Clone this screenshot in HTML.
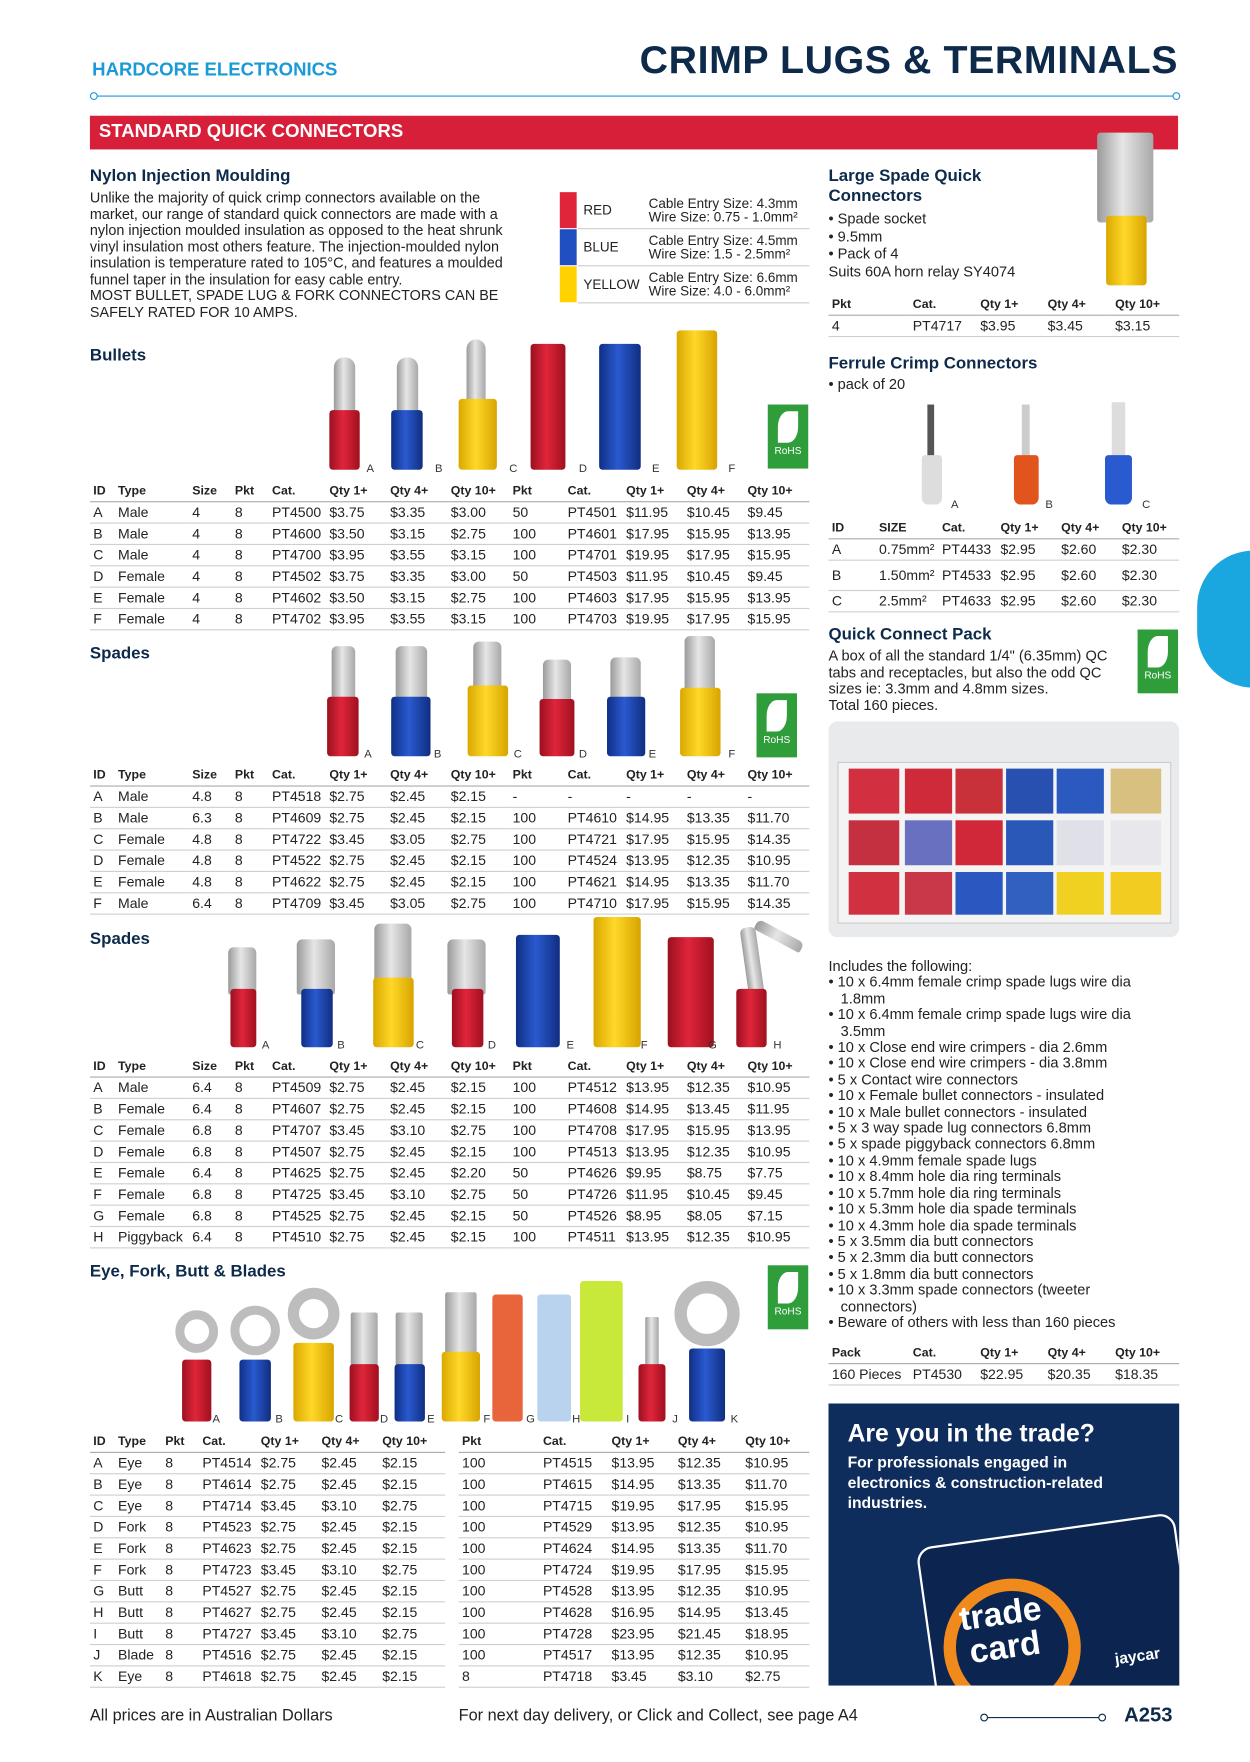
<!DOCTYPE html>
<html><head><meta charset="utf-8">
<style>
html,body{margin:0;padding:0;background:#fff;}
body{width:1250px;height:1762px;overflow:hidden;position:relative;}
#p{position:absolute;left:0;top:0;width:1112px;height:1568px;transform:scale(1.1241,1.1237);transform-origin:0 0;font-family:"Liberation Sans",sans-serif;color:#222;}
.a{position:absolute;}
table.t{position:absolute;border-collapse:collapse;table-layout:fixed;font-family:"Liberation Sans Narrow","Liberation Sans",sans-serif;font-size:12.5px;color:#222;}
table.t td{height:18px;padding:0 0 0 3px;border-bottom:1px solid #cfcfcf;white-space:nowrap;overflow:hidden;line-height:18px;}
table.t tr.h td{font-weight:bold;font-family:"Liberation Sans",sans-serif;font-size:11px;border-bottom:1px solid #aaa;}
h3{position:absolute;margin:0;font-size:15px;font-weight:bold;color:#0d2a4a;}
.m{position:absolute;background:linear-gradient(90deg,#9a9a9a,#e6e6e6 45%,#a8a8a8);border-radius:5px 5px 2px 2px;}
.r{position:absolute;background:linear-gradient(90deg,#9b1020,#e0253a 45%,#a0101f);border-radius:3px;}
.b{position:absolute;background:linear-gradient(90deg,#0f2f86,#2a5ad0 45%,#102e80);border-radius:3px;}
.y{position:absolute;background:linear-gradient(90deg,#d9a800,#ffd828 45%,#d8a400);border-radius:3px;}
.l{position:absolute;font-family:"Liberation Sans Narrow",sans-serif;font-size:10px;color:#333;}
.ro{position:absolute;background:#2f9d3a;width:36px;height:57px;color:#fff;font-size:9px;text-align:center;}
.ro i{display:block;width:18px;height:28px;margin:6px auto 2px;background:#fff;border-radius:50% 0 50% 0;}
.ring{position:absolute;border-radius:50%;border:8px solid #bdbdbd;box-sizing:border-box;}
.txt{font-size:12.6px;line-height:14.5px;}
</style></head><body><div id="p">

<div class="a" style="left:82px;top:53px;font-size:16.5px;font-weight:bold;color:#1a9ad6;">HARDCORE ELECTRONICS</div>
<div class="a" style="right:64px;top:34px;font-size:35px;font-weight:bold;color:#0d2a4a;letter-spacing:0.5px;">CRIMP LUGS &amp; TERMINALS</div>
<div class="a" style="left:84px;top:85px;width:962px;height:1px;background:#1a9ad6;"></div>
<div class="a" style="left:80px;top:82px;width:5px;height:5px;border:1px solid #1a9ad6;border-radius:50%;background:#fff"></div>
<div class="a" style="left:1043px;top:82px;width:5px;height:5px;border:1px solid #1a9ad6;border-radius:50%;background:#fff"></div>
<div class="a" style="left:80px;top:103px;width:968px;height:30px;background:#d71f3a;"></div>
<div class="a" style="left:88px;top:108px;font-size:16.5px;font-weight:bold;color:#fff;">STANDARD QUICK CONNECTORS</div>
<div class="a" style="left:1065px;top:490px;width:100px;height:122px;border-radius:61px;background:#1aa7e0;"></div>

<h3 style="left:80px;top:148px;">Nylon Injection Moulding</h3>
<div class="a txt" style="left:80px;top:169px;width:392px;font-size:12.8px;">Unlike the majority of quick crimp connectors available on the market, our range of standard quick connectors are made with a nylon injection moulded insulation as opposed to the heat shrunk vinyl insulation most others feature. The injection-moulded nylon insulation is temperature rated to 105°C, and features a moulded funnel taper in the insulation for easy cable entry.<br>MOST BULLET, SPADE LUG &amp; FORK CONNECTORS CAN BE SAFELY RATED FOR 10 AMPS.</div>

<div class="a" style="left:498px;top:171px;width:15px;height:32px;background:#e0253a"></div>
<div class="a" style="left:498px;top:204px;width:15px;height:32px;background:#1f4fc0"></div>
<div class="a" style="left:498px;top:237px;width:15px;height:32px;background:#ffd200"></div>
<div class="a" style="left:514px;top:203px;width:206px;height:1px;background:#ccc"></div>
<div class="a" style="left:514px;top:236px;width:206px;height:1px;background:#ccc"></div>
<div class="a" style="left:514px;top:269px;width:206px;height:1px;background:#ccc"></div>
<div class="a" style="font-family:'Liberation Sans Narrow',sans-serif;font-size:12px;left:519px;top:180px;">RED</div>
<div class="a" style="font-family:'Liberation Sans Narrow',sans-serif;font-size:12px;left:519px;top:213px;">BLUE</div>
<div class="a" style="font-family:'Liberation Sans Narrow',sans-serif;font-size:12px;left:519px;top:246px;">YELLOW</div>
<div class="a" style="font-family:'Liberation Sans Narrow',sans-serif;font-size:12px;line-height:12px;left:577px;top:175px;">Cable Entry Size: 4.3mm<br>Wire Size: 0.75 - 1.0mm²</div>
<div class="a" style="font-family:'Liberation Sans Narrow',sans-serif;font-size:12px;line-height:12px;left:577px;top:208px;">Cable Entry Size: 4.5mm<br>Wire Size: 1.5 - 2.5mm²</div>
<div class="a" style="font-family:'Liberation Sans Narrow',sans-serif;font-size:12px;line-height:12px;left:577px;top:241px;">Cable Entry Size: 6.6mm<br>Wire Size: 4.0 - 6.0mm²</div>

<!-- Bullets -->
<h3 style="left:80px;top:308px;">Bullets</h3>
<div class="m" style="left:297px;top:318px;width:19px;height:50px;border-radius:9px 9px 2px 2px"></div><div class="r" style="left:293px;top:365px;width:27px;height:53px"></div>
<div class="m" style="left:353px;top:318px;width:19px;height:50px;border-radius:9px 9px 2px 2px"></div><div class="b" style="left:348px;top:365px;width:28px;height:53px"></div>
<div class="m" style="left:415px;top:302px;width:17px;height:58px;border-radius:9px 9px 2px 2px"></div><div class="y" style="left:408px;top:355px;width:34px;height:63px"></div>
<div class="r" style="left:472px;top:306px;width:31px;height:112px"></div>
<div class="b" style="left:533px;top:306px;width:37px;height:112px"></div>
<div class="y" style="left:602px;top:294px;width:36px;height:124px"></div>
<div class="l" style="left:326px;top:412px">A</div><div class="l" style="left:387px;top:412px">B</div><div class="l" style="left:453px;top:412px">C</div><div class="l" style="left:515px;top:412px">D</div><div class="l" style="left:580px;top:412px">E</div><div class="l" style="left:648px;top:412px">F</div>
<div class="ro" style="left:683px;top:360px"><i></i>RoHS</div>

<table class="t" style="left:80px;top:428px;width:640px">
<colgroup><col style="width:22px"><col style="width:66px"><col style="width:38px"><col style="width:33px"><col style="width:51px"><col style="width:54px"><col style="width:54px"><col style="width:55px"><col style="width:49px"><col style="width:52px"><col style="width:54px"><col style="width:54px"><col style="width:58px"></colgroup>
<tr class="h"><td>ID</td><td>Type</td><td>Size</td><td>Pkt</td><td>Cat.</td><td>Qty 1+</td><td>Qty 4+</td><td>Qty 10+</td><td>Pkt</td><td>Cat.</td><td>Qty 1+</td><td>Qty 4+</td><td>Qty 10+</td></tr>
<tr><td>A</td><td>Male</td><td>4</td><td>8</td><td>PT4500</td><td>$3.75</td><td>$3.35</td><td>$3.00</td><td>50</td><td>PT4501</td><td>$11.95</td><td>$10.45</td><td>$9.45</td></tr>
<tr><td>B</td><td>Male</td><td>4</td><td>8</td><td>PT4600</td><td>$3.50</td><td>$3.15</td><td>$2.75</td><td>100</td><td>PT4601</td><td>$17.95</td><td>$15.95</td><td>$13.95</td></tr>
<tr><td>C</td><td>Male</td><td>4</td><td>8</td><td>PT4700</td><td>$3.95</td><td>$3.55</td><td>$3.15</td><td>100</td><td>PT4701</td><td>$19.95</td><td>$17.95</td><td>$15.95</td></tr>
<tr><td>D</td><td>Female</td><td>4</td><td>8</td><td>PT4502</td><td>$3.75</td><td>$3.35</td><td>$3.00</td><td>50</td><td>PT4503</td><td>$11.95</td><td>$10.45</td><td>$9.45</td></tr>
<tr><td>E</td><td>Female</td><td>4</td><td>8</td><td>PT4602</td><td>$3.50</td><td>$3.15</td><td>$2.75</td><td>100</td><td>PT4603</td><td>$17.95</td><td>$15.95</td><td>$13.95</td></tr>
<tr><td>F</td><td>Female</td><td>4</td><td>8</td><td>PT4702</td><td>$3.95</td><td>$3.55</td><td>$3.15</td><td>100</td><td>PT4703</td><td>$19.95</td><td>$17.95</td><td>$15.95</td></tr>
</table>

<!-- Spades 1 -->
<h3 style="left:80px;top:573px;">Spades</h3>
<div class="m" style="left:295px;top:575px;width:21px;height:50px"></div><div class="r" style="left:291px;top:620px;width:28px;height:53px"></div>
<div class="m" style="left:352px;top:575px;width:28px;height:50px"></div><div class="b" style="left:348px;top:620px;width:35px;height:53px"></div>
<div class="m" style="left:421px;top:571px;width:25px;height:44px"></div><div class="y" style="left:416px;top:610px;width:36px;height:63px"></div>
<div class="m" style="left:483px;top:587px;width:25px;height:38px"></div><div class="r" style="left:480px;top:622px;width:31px;height:51px"></div>
<div class="m" style="left:543px;top:585px;width:27px;height:40px"></div><div class="b" style="left:540px;top:620px;width:34px;height:53px"></div>
<div class="m" style="left:609px;top:566px;width:27px;height:54px"></div><div class="y" style="left:605px;top:612px;width:36px;height:61px"></div>
<div class="l" style="left:324px;top:666px">A</div><div class="l" style="left:386px;top:666px">B</div><div class="l" style="left:457px;top:666px">C</div><div class="l" style="left:515px;top:666px">D</div><div class="l" style="left:577px;top:666px">E</div><div class="l" style="left:648px;top:666px">F</div>
<div class="ro" style="left:673px;top:617px"><i></i>RoHS</div>

<table class="t" style="left:80px;top:681px;width:640px">
<colgroup><col style="width:22px"><col style="width:66px"><col style="width:38px"><col style="width:33px"><col style="width:51px"><col style="width:54px"><col style="width:54px"><col style="width:55px"><col style="width:49px"><col style="width:52px"><col style="width:54px"><col style="width:54px"><col style="width:58px"></colgroup>
<tr class="h"><td>ID</td><td>Type</td><td>Size</td><td>Pkt</td><td>Cat.</td><td>Qty 1+</td><td>Qty 4+</td><td>Qty 10+</td><td>Pkt</td><td>Cat.</td><td>Qty 1+</td><td>Qty 4+</td><td>Qty 10+</td></tr>
<tr><td>A</td><td>Male</td><td>4.8</td><td>8</td><td>PT4518</td><td>$2.75</td><td>$2.45</td><td>$2.15</td><td>-</td><td>-</td><td>-</td><td>-</td><td>-</td></tr>
<tr><td>B</td><td>Male</td><td>6.3</td><td>8</td><td>PT4609</td><td>$2.75</td><td>$2.45</td><td>$2.15</td><td>100</td><td>PT4610</td><td>$14.95</td><td>$13.35</td><td>$11.70</td></tr>
<tr><td>C</td><td>Female</td><td>4.8</td><td>8</td><td>PT4722</td><td>$3.45</td><td>$3.05</td><td>$2.75</td><td>100</td><td>PT4721</td><td>$17.95</td><td>$15.95</td><td>$14.35</td></tr>
<tr><td>D</td><td>Female</td><td>4.8</td><td>8</td><td>PT4522</td><td>$2.75</td><td>$2.45</td><td>$2.15</td><td>100</td><td>PT4524</td><td>$13.95</td><td>$12.35</td><td>$10.95</td></tr>
<tr><td>E</td><td>Female</td><td>4.8</td><td>8</td><td>PT4622</td><td>$2.75</td><td>$2.45</td><td>$2.15</td><td>100</td><td>PT4621</td><td>$14.95</td><td>$13.35</td><td>$11.70</td></tr>
<tr><td>F</td><td>Male</td><td>6.4</td><td>8</td><td>PT4709</td><td>$3.45</td><td>$3.05</td><td>$2.75</td><td>100</td><td>PT4710</td><td>$17.95</td><td>$15.95</td><td>$14.35</td></tr>
</table>

<!-- Spades 2 -->
<h3 style="left:80px;top:827px;">Spades</h3>
<div class="m" style="left:203px;top:843px;width:25px;height:42px"></div><div class="r" style="left:205px;top:880px;width:23px;height:52px"></div>
<div class="m" style="left:264px;top:836px;width:34px;height:49px"></div><div class="b" style="left:268px;top:880px;width:28px;height:52px"></div>
<div class="m" style="left:333px;top:822px;width:33px;height:53px"></div><div class="y" style="left:332px;top:870px;width:36px;height:62px"></div>
<div class="m" style="left:398px;top:836px;width:34px;height:49px"></div><div class="r" style="left:402px;top:880px;width:28px;height:52px"></div>
<div class="b" style="left:459px;top:832px;width:39px;height:100px"></div>
<div class="y" style="left:528px;top:816px;width:42px;height:116px"></div>
<div class="r" style="left:594px;top:834px;width:41px;height:98px"></div>
<div class="m" style="left:662px;top:825px;width:14px;height:60px;transform:rotate(-8deg)"></div><div class="m" style="left:670px;top:828px;width:46px;height:10px;transform:rotate(28deg)"></div><div class="r" style="left:655px;top:880px;width:27px;height:52px"></div>
<div class="l" style="left:233px;top:925px">A</div><div class="l" style="left:300px;top:925px">B</div><div class="l" style="left:370px;top:925px">C</div><div class="l" style="left:434px;top:925px">D</div><div class="l" style="left:504px;top:925px">E</div><div class="l" style="left:570px;top:925px">F</div><div class="l" style="left:630px;top:925px">G</div><div class="l" style="left:688px;top:925px">H</div>

<table class="t" style="left:80px;top:940px;width:640px">
<colgroup><col style="width:22px"><col style="width:66px"><col style="width:38px"><col style="width:33px"><col style="width:51px"><col style="width:54px"><col style="width:54px"><col style="width:55px"><col style="width:49px"><col style="width:52px"><col style="width:54px"><col style="width:54px"><col style="width:58px"></colgroup>
<tr class="h"><td>ID</td><td>Type</td><td>Size</td><td>Pkt</td><td>Cat.</td><td>Qty 1+</td><td>Qty 4+</td><td>Qty 10+</td><td>Pkt</td><td>Cat.</td><td>Qty 1+</td><td>Qty 4+</td><td>Qty 10+</td></tr>
<tr><td>A</td><td>Male</td><td>6.4</td><td>8</td><td>PT4509</td><td>$2.75</td><td>$2.45</td><td>$2.15</td><td>100</td><td>PT4512</td><td>$13.95</td><td>$12.35</td><td>$10.95</td></tr>
<tr><td>B</td><td>Female</td><td>6.4</td><td>8</td><td>PT4607</td><td>$2.75</td><td>$2.45</td><td>$2.15</td><td>100</td><td>PT4608</td><td>$14.95</td><td>$13.45</td><td>$11.95</td></tr>
<tr><td>C</td><td>Female</td><td>6.8</td><td>8</td><td>PT4707</td><td>$3.45</td><td>$3.10</td><td>$2.75</td><td>100</td><td>PT4708</td><td>$17.95</td><td>$15.95</td><td>$13.95</td></tr>
<tr><td>D</td><td>Female</td><td>6.8</td><td>8</td><td>PT4507</td><td>$2.75</td><td>$2.45</td><td>$2.15</td><td>100</td><td>PT4513</td><td>$13.95</td><td>$12.35</td><td>$10.95</td></tr>
<tr><td>E</td><td>Female</td><td>6.4</td><td>8</td><td>PT4625</td><td>$2.75</td><td>$2.45</td><td>$2.20</td><td>50</td><td>PT4626</td><td>$9.95</td><td>$8.75</td><td>$7.75</td></tr>
<tr><td>F</td><td>Female</td><td>6.8</td><td>8</td><td>PT4725</td><td>$3.45</td><td>$3.10</td><td>$2.75</td><td>50</td><td>PT4726</td><td>$11.95</td><td>$10.45</td><td>$9.45</td></tr>
<tr><td>G</td><td>Female</td><td>6.8</td><td>8</td><td>PT4525</td><td>$2.75</td><td>$2.45</td><td>$2.15</td><td>50</td><td>PT4526</td><td>$8.95</td><td>$8.05</td><td>$7.15</td></tr>
<tr><td>H</td><td>Piggyback</td><td>6.4</td><td>8</td><td>PT4510</td><td>$2.75</td><td>$2.45</td><td>$2.15</td><td>100</td><td>PT4511</td><td>$13.95</td><td>$12.35</td><td>$10.95</td></tr>
</table>

<!-- Eye fork -->
<h3 style="left:80px;top:1123px;">Eye, Fork, Butt &amp; Blades</h3>
<div class="ring" style="left:156px;top:1166px;width:38px;height:38px"></div><div class="r" style="left:162px;top:1210px;width:26px;height:55px"></div>
<div class="ring" style="left:205px;top:1162px;width:44px;height:44px"></div><div class="b" style="left:213px;top:1210px;width:28px;height:55px"></div>
<div class="ring" style="left:256px;top:1146px;width:46px;height:46px;border-width:10px"></div><div class="y" style="left:261px;top:1195px;width:36px;height:70px"></div>
<div class="m" style="left:312px;top:1168px;width:24px;height:48px;border-radius:2px"></div><div class="r" style="left:311px;top:1214px;width:26px;height:51px"></div>
<div class="m" style="left:352px;top:1168px;width:24px;height:48px;border-radius:2px"></div><div class="b" style="left:351px;top:1214px;width:27px;height:51px"></div>
<div class="m" style="left:396px;top:1150px;width:28px;height:56px;border-radius:2px"></div><div class="y" style="left:393px;top:1203px;width:34px;height:62px"></div>
<div class="a" style="left:438px;top:1152px;width:27px;height:113px;background:#e8643a;border-radius:3px"></div>
<div class="a" style="left:478px;top:1152px;width:30px;height:113px;background:#b9d3ee;border-radius:3px"></div>
<div class="a" style="left:516px;top:1140px;width:38px;height:125px;background:#c8e83a;border-radius:3px"></div>
<div class="m" style="left:574px;top:1172px;width:12px;height:44px;border-radius:1px"></div><div class="r" style="left:568px;top:1214px;width:24px;height:51px"></div>
<div class="ring" style="left:600px;top:1140px;width:58px;height:58px;border-width:11px"></div><div class="b" style="left:613px;top:1200px;width:32px;height:65px"></div>
<div class="l" style="left:189px;top:1258px">A</div><div class="l" style="left:245px;top:1258px">B</div><div class="l" style="left:298px;top:1258px">C</div><div class="l" style="left:338px;top:1258px">D</div><div class="l" style="left:380px;top:1258px">E</div><div class="l" style="left:430px;top:1258px">F</div><div class="l" style="left:468px;top:1258px">G</div><div class="l" style="left:509px;top:1258px">H</div><div class="l" style="left:557px;top:1258px">I</div><div class="l" style="left:598px;top:1258px">J</div><div class="l" style="left:650px;top:1258px">K</div>
<div class="ro" style="left:683px;top:1126px"><i></i>RoHS</div>

<table class="t" style="left:80px;top:1274px;width:316px">
<colgroup><col style="width:22px"><col style="width:42px"><col style="width:33px"><col style="width:52px"><col style="width:54px"><col style="width:54px"><col style="width:59px"></colgroup>
<tr class="h"><td>ID</td><td>Type</td><td>Pkt</td><td>Cat.</td><td>Qty 1+</td><td>Qty 4+</td><td>Qty 10+</td></tr>
<tr><td>A</td><td>Eye</td><td>8</td><td>PT4514</td><td>$2.75</td><td>$2.45</td><td>$2.15</td></tr>
<tr><td>B</td><td>Eye</td><td>8</td><td>PT4614</td><td>$2.75</td><td>$2.45</td><td>$2.15</td></tr>
<tr><td>C</td><td>Eye</td><td>8</td><td>PT4714</td><td>$3.45</td><td>$3.10</td><td>$2.75</td></tr>
<tr><td>D</td><td>Fork</td><td>8</td><td>PT4523</td><td>$2.75</td><td>$2.45</td><td>$2.15</td></tr>
<tr><td>E</td><td>Fork</td><td>8</td><td>PT4623</td><td>$2.75</td><td>$2.45</td><td>$2.15</td></tr>
<tr><td>F</td><td>Fork</td><td>8</td><td>PT4723</td><td>$3.45</td><td>$3.10</td><td>$2.75</td></tr>
<tr><td>G</td><td>Butt</td><td>8</td><td>PT4527</td><td>$2.75</td><td>$2.45</td><td>$2.15</td></tr>
<tr><td>H</td><td>Butt</td><td>8</td><td>PT4627</td><td>$2.75</td><td>$2.45</td><td>$2.15</td></tr>
<tr><td>I</td><td>Butt</td><td>8</td><td>PT4727</td><td>$3.45</td><td>$3.10</td><td>$2.75</td></tr>
<tr><td>J</td><td>Blade</td><td>8</td><td>PT4516</td><td>$2.75</td><td>$2.45</td><td>$2.15</td></tr>
<tr><td>K</td><td>Eye</td><td>8</td><td>PT4618</td><td>$2.75</td><td>$2.45</td><td>$2.15</td></tr>
</table>
<table class="t" style="left:408px;top:1274px;width:312px">
<colgroup><col style="width:72px"><col style="width:61px"><col style="width:59px"><col style="width:60px"><col style="width:60px"></colgroup>
<tr class="h"><td>Pkt</td><td>Cat.</td><td>Qty 1+</td><td>Qty 4+</td><td>Qty 10+</td></tr>
<tr><td>100</td><td>PT4515</td><td>$13.95</td><td>$12.35</td><td>$10.95</td></tr>
<tr><td>100</td><td>PT4615</td><td>$14.95</td><td>$13.35</td><td>$11.70</td></tr>
<tr><td>100</td><td>PT4715</td><td>$19.95</td><td>$17.95</td><td>$15.95</td></tr>
<tr><td>100</td><td>PT4529</td><td>$13.95</td><td>$12.35</td><td>$10.95</td></tr>
<tr><td>100</td><td>PT4624</td><td>$14.95</td><td>$13.35</td><td>$11.70</td></tr>
<tr><td>100</td><td>PT4724</td><td>$19.95</td><td>$17.95</td><td>$15.95</td></tr>
<tr><td>100</td><td>PT4528</td><td>$13.95</td><td>$12.35</td><td>$10.95</td></tr>
<tr><td>100</td><td>PT4628</td><td>$16.95</td><td>$14.95</td><td>$13.45</td></tr>
<tr><td>100</td><td>PT4728</td><td>$23.95</td><td>$21.45</td><td>$18.95</td></tr>
<tr><td>100</td><td>PT4517</td><td>$13.95</td><td>$12.35</td><td>$10.95</td></tr>
<tr><td>8</td><td>PT4718</td><td>$3.45</td><td>$3.10</td><td>$2.75</td></tr>
</table>

<!-- Right column -->
<h3 style="left:737px;top:148px;line-height:18px;">Large Spade Quick<br>Connectors</h3>
<div class="a txt" style="left:737px;top:187px;font-size:13px;line-height:15.5px;">• Spade socket<br>• 9.5mm<br>• Pack of 4<br>Suits 60A horn relay SY4074</div>
<div class="m" style="left:976px;top:118px;width:50px;height:80px;border-radius:3px"></div><div class="y" style="left:984px;top:192px;width:36px;height:62px"></div>
<table class="t" style="left:737px;top:262px;width:312px">
<colgroup><col style="width:72px"><col style="width:60px"><col style="width:60px"><col style="width:60px"><col style="width:60px"></colgroup>
<tr class="h"><td>Pkt</td><td>Cat.</td><td>Qty 1+</td><td>Qty 4+</td><td>Qty 10+</td></tr>
<tr><td>4</td><td>PT4717</td><td>$3.95</td><td>$3.45</td><td>$3.15</td></tr>
</table>

<h3 style="left:737px;top:315px;">Ferrule Crimp Connectors</h3>
<div class="a txt" style="left:737px;top:335px;font-size:13px;">• pack of 20</div>
<div class="a" style="left:825px;top:360px;width:6px;height:50px;background:#555"></div><div class="a" style="left:820px;top:405px;width:18px;height:44px;background:#ddd;border-radius:3px 3px 6px 6px"></div>
<div class="a" style="left:909px;top:360px;width:7px;height:50px;background:#ccc"></div><div class="a" style="left:902px;top:405px;width:22px;height:44px;background:#e2541e;border-radius:3px 3px 6px 6px"></div>
<div class="a" style="left:989px;top:358px;width:12px;height:50px;background:#ddd"></div><div class="a" style="left:983px;top:405px;width:24px;height:44px;background:#2a5ad0;border-radius:3px 3px 6px 6px"></div>
<div class="l" style="left:846px;top:444px">A</div><div class="l" style="left:930px;top:444px">B</div><div class="l" style="left:1016px;top:444px">C</div>
<table class="t" style="left:737px;top:461px;width:312px">
<colgroup><col style="width:42px"><col style="width:56px"><col style="width:52px"><col style="width:54px"><col style="width:54px"><col style="width:54px"></colgroup>
<tr class="h"><td>ID</td><td>SIZE</td><td>Cat.</td><td>Qty 1+</td><td>Qty 4+</td><td>Qty 10+</td></tr>
<tr><td>A</td><td>0.75mm²</td><td>PT4433</td><td>$2.95</td><td>$2.60</td><td>$2.30</td></tr>
<tr><td style="height:22px;line-height:26px">B</td><td style="line-height:26px">1.50mm²</td><td style="line-height:26px">PT4533</td><td style="line-height:26px">$2.95</td><td style="line-height:26px">$2.60</td><td style="line-height:26px">$2.30</td></tr>
<tr><td>C</td><td>2.5mm²</td><td>PT4633</td><td>$2.95</td><td>$2.60</td><td>$2.30</td></tr>
</table>

<h3 style="left:737px;top:556px;">Quick Connect Pack</h3>
<div class="a txt" style="left:737px;top:577px;width:265px;font-size:13px;">A box of all the standard 1/4" (6.35mm) QC tabs and receptacles, but also the odd QC sizes ie: 3.3mm and 4.8mm sizes.<br>Total 160 pieces.</div>
<div class="ro" style="left:1012px;top:560px"><i></i>RoHS</div>
<div class="a" style="left:737px;top:642px;width:312px;height:192px;background:#e8eaec;border-radius:8px;"></div>
<div class="a" style="left:745px;top:678px;width:295px;height:142px;background:#f4f4f4;border:1px solid #ccc;"></div>
<div class="a" style="left:755px;top:684px;width:45px;height:40px;background:#d23040;"></div>
<div class="a" style="left:805px;top:684px;width:42px;height:40px;background:#ce2a3a;"></div>
<div class="a" style="left:850px;top:684px;width:42px;height:40px;background:#c8303a;"></div>
<div class="a" style="left:895px;top:684px;width:42px;height:40px;background:#2850b0;"></div>
<div class="a" style="left:940px;top:684px;width:42px;height:40px;background:#2a5ac0;"></div>
<div class="a" style="left:988px;top:684px;width:45px;height:40px;background:#d8c080;"></div>
<div class="a" style="left:755px;top:730px;width:45px;height:40px;background:#c43040;"></div>
<div class="a" style="left:805px;top:730px;width:42px;height:40px;background:#6a70c0;"></div>
<div class="a" style="left:850px;top:730px;width:42px;height:40px;background:#d02838;"></div>
<div class="a" style="left:895px;top:730px;width:42px;height:40px;background:#2a58b8;"></div>
<div class="a" style="left:940px;top:730px;width:42px;height:40px;background:#e0e0e8;"></div>
<div class="a" style="left:988px;top:730px;width:45px;height:40px;background:#e8e8ec;"></div>
<div class="a" style="left:755px;top:776px;width:45px;height:38px;background:#d03040;"></div>
<div class="a" style="left:805px;top:776px;width:42px;height:38px;background:#c83848;"></div>
<div class="a" style="left:850px;top:776px;width:42px;height:38px;background:#2a58c0;"></div>
<div class="a" style="left:895px;top:776px;width:42px;height:38px;background:#3060c0;"></div>
<div class="a" style="left:940px;top:776px;width:42px;height:38px;background:#f0d020;"></div>
<div class="a" style="left:988px;top:776px;width:45px;height:38px;background:#f2cc20;"></div>

<div class="a txt" style="left:737px;top:853px;width:300px;font-size:13px;line-height:14.4px;">Includes the following:<br>• 10 x 6.4mm female crimp spade lugs wire dia<br>&nbsp;&nbsp;&nbsp;1.8mm<br>• 10 x 6.4mm female crimp spade lugs wire dia<br>&nbsp;&nbsp;&nbsp;3.5mm<br>• 10 x Close end wire crimpers - dia 2.6mm<br>• 10 x Close end wire crimpers - dia 3.8mm<br>• 5 x Contact wire connectors<br>• 10 x Female bullet connectors - insulated<br>• 10 x Male bullet connectors - insulated<br>• 5 x 3 way spade lug connectors 6.8mm<br>• 5 x spade piggyback connectors 6.8mm<br>• 10 x 4.9mm female spade lugs<br>• 10 x 8.4mm hole dia ring terminals<br>• 10 x 5.7mm hole dia ring terminals<br>• 10 x 5.3mm hole dia spade terminals<br>• 10 x 4.3mm hole dia spade terminals<br>• 5 x 3.5mm dia butt connectors<br>• 5 x 2.3mm dia butt connectors<br>• 5 x 1.8mm dia butt connectors<br>• 10 x 3.3mm spade connectors (tweeter<br>&nbsp;&nbsp;&nbsp;connectors)<br>• Beware of others with less than 160 pieces</div>
<table class="t" style="left:737px;top:1195px;width:312px">
<colgroup><col style="width:72px"><col style="width:60px"><col style="width:60px"><col style="width:60px"><col style="width:60px"></colgroup>
<tr class="h"><td>Pack</td><td>Cat.</td><td>Qty 1+</td><td>Qty 4+</td><td>Qty 10+</td></tr>
<tr><td>160 Pieces</td><td>PT4530</td><td>$22.95</td><td>$20.35</td><td>$18.35</td></tr>
</table>

<div class="a" style="left:737px;top:1249px;width:312px;height:251px;background:#0f2d5c;overflow:hidden;">
 <div class="a" style="left:17px;top:14px;font-size:22px;font-weight:bold;color:#fff;">Are you in the trade?</div>
 <div class="a" style="left:17px;top:43px;font-size:14px;font-weight:bold;color:#fff;line-height:18px;">For professionals engaged in<br>electronics &amp; construction-related<br>industries.</div>
 <div class="a" style="left:88px;top:112px;width:228px;height:165px;background:#0b2550;border:2px solid #fff;border-radius:14px;transform:rotate(-8deg);">
  <div class="a" style="left:10px;top:36px;width:100px;height:100px;border:11px solid #f08a1c;border-radius:50%;"></div>
  <div class="a" style="left:28px;top:52px;font-size:30px;font-weight:bold;color:#fff;line-height:30px;text-align:center;">trade<br>card</div>
  <div class="a" style="left:160px;top:112px;font-size:14px;font-weight:bold;color:#fff;">jaycar</div>
 </div>
</div>

<div class="a" style="left:80px;top:1519px;font-size:14.5px;color:#222;">All prices are in Australian Dollars</div>
<div class="a" style="left:408px;top:1519px;font-size:14.5px;color:#222;">For next day delivery, or Click and Collect, see page A4</div>
<div class="a" style="left:876px;top:1528px;width:103px;height:1px;background:#0d2a4a;"></div>
<div class="a" style="left:872px;top:1525px;width:5px;height:5px;border:1px solid #0d2a4a;border-radius:50%;background:#fff"></div>
<div class="a" style="left:977px;top:1525px;width:5px;height:5px;border:1px solid #0d2a4a;border-radius:50%;background:#fff"></div>
<div class="a" style="left:1000px;top:1516px;font-size:18px;font-weight:bold;color:#0d2a4a;">A253</div>

</div></body></html>
